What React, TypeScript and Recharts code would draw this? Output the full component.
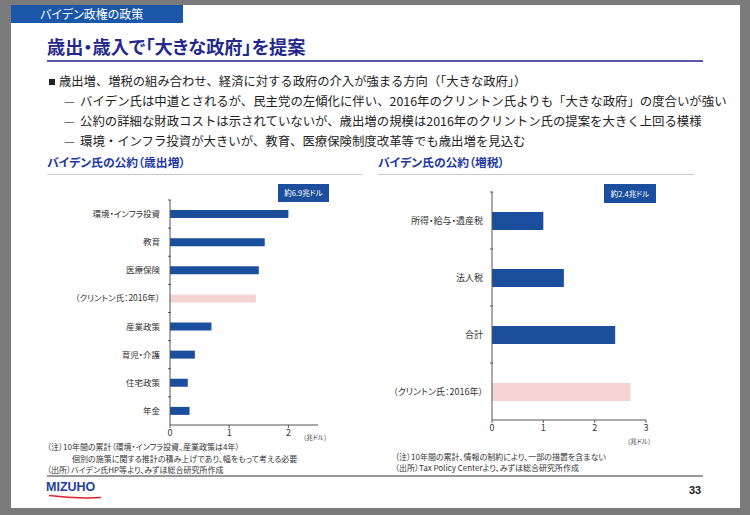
import React from "react";
import { BarChart, Bar, XAxis, YAxis, Cell } from "recharts";

// 歳出増（兆ドル）
const spendCategories = [
  "環境・インフラ投資",
  "教育",
  "医療保険",
  "（クリントン氏：2016年）",
  "産業政策",
  "育児・介護",
  "住宅政策",
  "年金",
];
const spendValues = [2.0, 1.6, 1.5, 1.45, 0.7, 0.42, 0.3, 0.33];
const spendTicks = [0, 1, 2];

// 増税（兆ドル）
const taxCategories = ["所得・給与・遺産税", "法人税", "合計", "（クリントン氏：2016年）"];
const taxValues = [1.0, 1.4, 2.4, 2.7];
const taxTicks = [0, 1, 2, 3];

const bullets = [
  "歳出増、増税の組み合わせ、経済に対する政府の介入が強まる方向（「大きな政府」）",
  "バイデン氏は中道とされるが、民主党の左傾化に伴い、2016年のクリントン氏よりも「大きな政府」の度合いが強い",
  "公約の詳細な財政コストは示されていないが、歳出増の規模は2016年のクリントン氏の提案を大きく上回る模様",
  "環境・インフラ投資が大きいが、教育、医療保険制度改革等でも歳出増を見込む",
];

const BLUE = "#1b4f9e";
const PINK = "#f6d3d3";
const AXIS = "#555";
const FONT = '"Noto Sans CJK JP", "Noto Sans", sans-serif';

const spendData = spendCategories.map((name, i) => ({ name, value: spendValues[i] }));
const taxData = taxCategories.map((name, i) => ({ name, value: taxValues[i] }));

const isClinton = (name: string) => name.includes("クリントン");

function makeTick(band: number, fontSize: number, gap: number) {
  return function CategoryTick(props: any) {
    const { x, y, payload } = props;
    return (
      <g>
        <line x1={x - 2} x2={x + 1} y1={y - band / 2} y2={y - band / 2} stroke={AXIS} />
        <text
          x={x - gap}
          y={y}
          dy="0.35em"
          textAnchor="end"
          fontSize={fontSize}
          fill="#333"
          fontFamily={FONT}
        >
          {payload.value}
        </text>
      </g>
    );
  };
}

function HBar({
  data,
  width,
  height,
  yWidth,
  right,
  domain,
  ticks,
  barSize,
  band,
  labelSize,
  gap,
}: {
  data: { name: string; value: number }[];
  width: number;
  height: number;
  yWidth: number;
  right: number;
  domain: [number, number];
  ticks: number[];
  barSize: number;
  band: number;
  labelSize: number;
  gap: number;
}) {
  return (
    <BarChart
      width={width}
      height={height}
      data={data}
      layout="vertical"
      margin={{ top: 10, right, bottom: 5, left: 0 }}
    >
      <XAxis
        type="number"
        domain={domain}
        ticks={ticks}
        height={20}
        tickSize={3}
        tick={{ fontSize: 9, fill: "#333", fontFamily: FONT }}
        stroke={AXIS}
      />
      <YAxis
        type="category"
        dataKey="name"
        width={yWidth}
        tickSize={0}
        tickMargin={0}
        tick={makeTick(band, labelSize, gap)}
        stroke={AXIS}
      />
      <Bar dataKey="value" barSize={barSize} isAnimationActive={false}>
        {data.map((d) => (
          <Cell key={d.name} fill={isClinton(d.name) ? PINK : BLUE} />
        ))}
      </Bar>
    </BarChart>
  );
}

const abs = (left: number, top: number, extra: React.CSSProperties = {}): React.CSSProperties => ({
  position: "absolute",
  left,
  top,
  whiteSpace: "nowrap",
  lineHeight: 1,
  ...extra,
});

export default function App() {
  return (
    <div
      style={{
        position: "absolute",
        left: 0,
        top: 0,
        width: 750,
        height: 515,
        background: "#7a7a7a",
        fontFamily: FONT,
        fontFeatureSettings: '"palt"',
        overflow: "hidden",
      }}
    >
      <div style={{ position: "absolute", left: 11, top: 5, width: 729, height: 503, background: "#fff" }} />

      {/* header tab */}
      <div style={{ position: "absolute", left: 11, top: 5, width: 172, height: 18, background: "#1a57a8" }} />
      <div style={abs(40, 8, { color: "#fff", fontSize: 12 })}>バイデン政権の政策</div>

      {/* title */}
      <div style={abs(47, 37, { color: "#23288a", fontSize: 18.2, fontWeight: 700 })}>
        歳出・歳入で「大きな政府」を提案
      </div>
      <div style={{ position: "absolute", left: 47, top: 60, width: 656, height: 2, background: "#5a58a8" }} />

      {/* bullets: full-width metrics here */}
      <div style={{ fontFeatureSettings: "normal" }}>
        <div style={{ position: "absolute", left: 49, top: 79, width: 6, height: 6, background: "#222" }} />
        <div style={abs(59, 75, { fontSize: 12.3, color: "#222" })}>{bullets[0]}</div>
        {bullets.slice(1).map((b, i) => (
          <React.Fragment key={i}>
            <div style={abs(64, 95 + i * 20, { fontSize: 12, color: "#555" })}>—</div>
            <div style={abs(80, 95 + i * 20, { fontSize: 12.4, color: "#222" })}>{b}</div>
          </React.Fragment>
        ))}
      </div>

      {/* left panel */}
      <div style={abs(47, 156, { color: "#2438a6", fontSize: 11.8, fontWeight: 700 })}>
        バイデン氏の公約（歳出増）
      </div>
      <div style={{ position: "absolute", left: 47, top: 174, width: 316, height: 1, background: "#ccc" }} />
      <div
        style={abs(278, 184, {
          width: 51,
          height: 18,
          background: BLUE,
          color: "#fff",
          fontSize: 7.5,
          display: "flex",
          alignItems: "center",
          justifyContent: "center",
        })}
      >
        約6.9兆ドル
      </div>
      <div style={{ position: "absolute", left: 40, top: 190 }}>
        <HBar
          data={spendData}
          width={300}
          height={260}
          yWidth={130}
          right={22}
          domain={[0, 2.5]}
          ticks={spendTicks}
          barSize={8}
          band={225 / 8}
          labelSize={8.5}
          gap={10}
        />
      </div>
      <div style={abs(303, 434, { fontSize: 6.5, color: "#444" })}>（兆ドル）</div>
      <div style={abs(47, 443, { fontSize: 8, color: "#333" })}>
        （注）10年間の累計（環境・インフラ投資、産業政策は4年）
      </div>
      <div style={abs(72, 455, { fontSize: 8, color: "#333" })}>
        個別の施策に関する推計の積み上げであり、幅をもって考える必要
      </div>
      <div style={abs(47, 466, { fontSize: 8, color: "#333" })}>
        （出所）バイデン氏HP等より、みずほ総合研究所作成
      </div>

      {/* right panel */}
      <div style={abs(378, 156, { color: "#2438a6", fontSize: 11.8, fontWeight: 700 })}>
        バイデン氏の公約（増税）
      </div>
      <div style={{ position: "absolute", left: 378, top: 174, width: 316, height: 1, background: "#ccc" }} />
      <div
        style={abs(604, 184, {
          width: 52,
          height: 19,
          background: BLUE,
          color: "#fff",
          fontSize: 7.5,
          display: "flex",
          alignItems: "center",
          justifyContent: "center",
        })}
      >
        約2.4兆ドル
      </div>
      <div style={{ position: "absolute", left: 370, top: 182 }}>
        <HBar
          data={taxData}
          width={300}
          height={263}
          yWidth={122}
          right={24}
          domain={[0, 3]}
          ticks={taxTicks}
          barSize={18}
          band={228 / 4}
          labelSize={9}
          gap={9}
        />
      </div>
      <div style={abs(627, 438, { fontSize: 6.5, color: "#444" })}>（兆ドル）</div>
      <div style={abs(395, 453, { fontSize: 8, color: "#333" })}>
        （注）10年間の累計、情報の制約により、一部の措置を含まない
      </div>
      <div style={abs(395, 464, { fontSize: 8, color: "#333" })}>
        （出所）Tax Policy Centerより、みずほ総合研究所作成
      </div>

      {/* footer */}
      <div style={{ position: "absolute", left: 47, top: 475, width: 656, height: 2, background: "#999" }} />
      <div style={abs(46, 481, { color: "#1f3fa0", fontSize: 12.5, fontWeight: 800, fontFamily: "Arial, 'Liberation Sans', sans-serif" })}>
        MIZUHO
      </div>
      <svg style={{ position: "absolute", left: 48, top: 494 }} width={54} height={6}>
        <path d="M1 1.5 Q 28 5 53 3.5" stroke="#d8242e" strokeWidth={1.6} fill="none" />
      </svg>
      <div style={abs(689, 485, { fontSize: 11, fontWeight: 700, color: "#222", fontFamily: "'Liberation Sans', sans-serif" })}>
        33
      </div>
    </div>
  );
}
